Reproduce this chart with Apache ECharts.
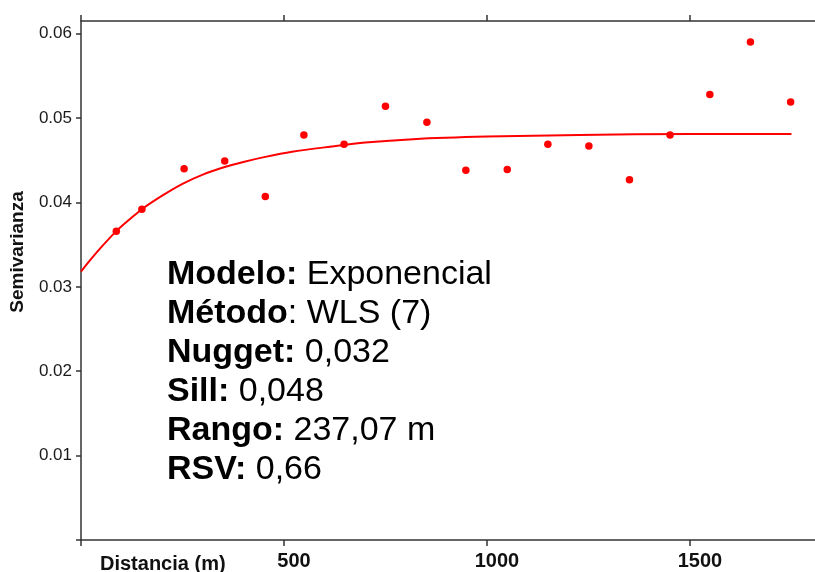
<!DOCTYPE html>
<html>
<head>
<meta charset="utf-8">
<script src="https://cdn.jsdelivr.net/npm/echarts@6/dist/echarts.min.js"></script>
<style>
  html, body { margin: 0; padding: 0; background: #fff; }
  #chart { width: 815px; height: 572px; }
</style>
</head>
<body>
<div id="chart"></div>
<script>
// Semivariograma experimental (distancia en m, semivarianza)
const distancias = [87, 150, 254, 354, 454, 549, 648, 750, 852, 948, 1050, 1150, 1251, 1351, 1451, 1549, 1649, 1748];
const semivarianzas = [0.0366, 0.0392, 0.0440, 0.0449, 0.0407, 0.0480, 0.0469, 0.0514, 0.0495, 0.0438,
                       0.0439, 0.0469, 0.0467, 0.0427, 0.0480, 0.0528, 0.0590, 0.0519];

const modeloDist = [0, 25, 50, 87, 120, 150, 200, 250, 300, 354, 400, 454, 520, 613, 700, 818, 1000, 1228, 1500, 1750];
const modeloGamma = [0.0318, 0.0333, 0.0347, 0.0366, 0.0380, 0.0392, 0.0408, 0.0422, 0.0433, 0.0442,
                     0.0448, 0.0454, 0.0460, 0.0466, 0.0471, 0.0475, 0.0478, 0.0480, 0.0481, 0.0481];

// Marcas de los ejes
const xTicks = [0, 500, 1000, 1500];
const xTickLabels = [500, 1000, 1500];
const yTicks = [0, 0.01, 0.02, 0.03, 0.04, 0.05, 0.06];
const yTickLabels = [0.01, 0.02, 0.03, 0.04, 0.05, 0.06];

// Parámetros del modelo: [etiqueta en negrita, resto]
const parametros = [
  ['Modelo:', ' Exponencial'],
  ['Método', ': WLS (7)'],
  ['Nugget:', ' 0,032'],
  ['Sill:', ' 0,048'],
  ['Rango:', ' 237,07 m'],
  ['RSV:', ' 0,66']
];

const FONT = '"Liberation Sans", Arial, sans-serif';
const AXIS_COLOR = '#333333';

const chart = echarts.init(document.getElementById('chart'), null, { renderer: 'canvas' });

const puntos = distancias.map((d, i) => [d, semivarianzas[i]]);
const curva = modeloDist.map((d, i) => [d, modeloGamma[i]]);

const textoParametros = parametros
  .map(p => '{b|' + p[0] + '}{n|' + p[1] + '}')
  .join('\n');

const axisLineStyle = { color: AXIS_COLOR, width: 1.5 };

chart.setOption({
  backgroundColor: '#ffffff',
  animation: false,
  grid: { left: 81, right: 0, top: 21, bottom: 32, containLabel: false },
  xAxis: [
    {
      type: 'value',
      position: 'bottom',
      min: 0,
      max: 1808,
      axisLine: { show: true, onZero: false, lineStyle: axisLineStyle },
      axisTick: { show: true, length: 6, customValues: xTicks, lineStyle: { color: AXIS_COLOR, width: 1.5 } },
      axisLabel: {
        customValues: xTickLabels,
        margin: 11,
        fontFamily: FONT,
        fontWeight: 'bold',
        fontSize: 20,
        color: '#111111',
        padding: [0, 0, 0, 20],
        formatter: v => String(v)
      },
      splitLine: { show: false }
    },
    {
      type: 'value',
      position: 'top',
      min: 0,
      max: 1808,
      axisLine: { show: true, onZero: false, lineStyle: axisLineStyle },
      axisTick: { show: true, length: 6, customValues: xTicks, lineStyle: { color: AXIS_COLOR, width: 1.5 } },
      axisLabel: { show: false },
      splitLine: { show: false }
    }
  ],
  yAxis: {
    type: 'value',
    min: 0,
    max: 0.0615,
    axisLine: { show: true, onZero: false, lineStyle: axisLineStyle },
    axisTick: { show: true, length: 5, customValues: yTicks, lineStyle: { color: AXIS_COLOR, width: 1.5 } },
    axisLabel: {
      customValues: yTickLabels,
      margin: 9,
      fontFamily: FONT,
      fontSize: 17,
      color: '#1a1a1a',
      formatter: v => v.toFixed(2)
    },
    splitLine: { show: false }
  },
  series: [
    {
      name: 'Modelo',
      type: 'line',
      data: curva,
      smooth: 0.3,
      showSymbol: false,
      lineStyle: { color: '#ff0000', width: 2 },
      z: 2
    },
    {
      name: 'Semivarianza',
      type: 'scatter',
      data: puntos,
      symbol: 'circle',
      symbolSize: 7.5,
      itemStyle: { color: '#ff0000', opacity: 1 },
      z: 3
    }
  ],
  graphic: [
    {
      type: 'text',
      left: 100,
      top: 554,
      style: {
        text: 'Distancia (m)',
        font: 'bold 20px ' + FONT,
        fill: '#111111'
      }
    },
    {
      type: 'text',
      x: 18,
      y: 252,
      rotation: Math.PI / 2,
      style: {
        text: 'Semivarianza',
        font: 'bold 19px ' + FONT,
        fill: '#111111',
        align: 'center',
        verticalAlign: 'middle'
      }
    },
    {
      type: 'text',
      x: 167,
      y: 255,
      scaleX: 1.03,
      style: {
        text: textoParametros,
        fill: '#000000',
        rich: {
          b: { fontFamily: FONT, fontWeight: 'bold', fontSize: 33, lineHeight: 39, fill: '#000000' },
          n: { fontFamily: FONT, fontWeight: 'normal', fontSize: 33, lineHeight: 39, fill: '#000000' }
        }
      }
    }
  ]
});
</script>
</body>
</html>
